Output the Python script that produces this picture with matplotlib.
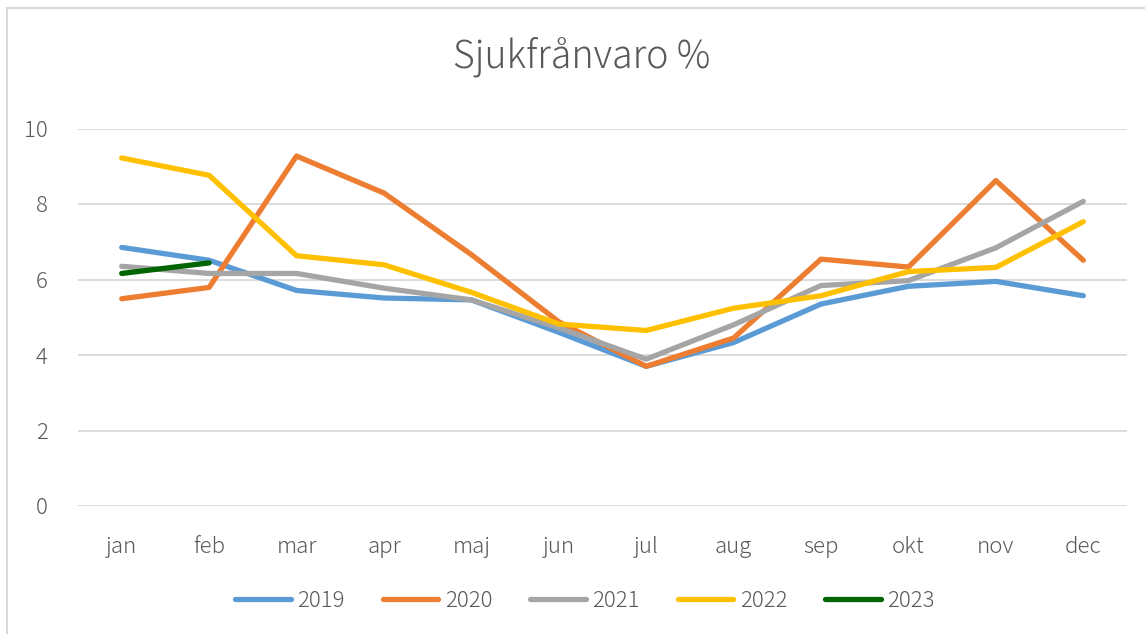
import matplotlib
matplotlib.use("Agg")
import matplotlib.pyplot as plt
from matplotlib.lines import Line2D

plt.rcParams['font.family'] = ['Noto Sans CJK JP', 'DejaVu Sans']

months = ["jan", "feb", "mar", "apr", "maj", "jun", "jul", "aug", "sep", "okt", "nov", "dec"]
y2019 = [6.85, 6.51, 5.71, 5.51, 5.46, 4.60, 3.70, 4.33, 5.35, 5.82, 5.95, 5.57]
y2020 = [5.49, 5.79, 9.27, 8.29, 6.66, 4.88, 3.70, 4.45, 6.54, 6.33, 8.62, 6.51]
y2021 = [6.35, 6.16, 6.16, 5.77, 5.46, 4.72, 3.89, 4.80, 5.84, 5.97, 6.84, 8.07]
y2022 = [9.22, 8.76, 6.63, 6.39, 5.66, 4.82, 4.65, 5.24, 5.57, 6.21, 6.32, 7.53]
y2023 = [6.16, 6.44]
years = ["2019", "2020", "2021", "2022", "2023"]
colors = ["#5B9BD5", "#ED7D31", "#A5A5A5", "#FFC000", "#006400"]
yticks = [0, 2, 4, 6, 8, 10]

text_color = "#595959"

fig = plt.figure(figsize=(11.45, 6.34), dpi=100)
ax = fig.add_axes([78/1145, 1-506/634, (1127-78)/1145, (506-128.5)/634])

series = [y2019, y2020, y2021, y2022, y2023]
x = list(range(len(months)))
for lab, vals, c in zip(years, series, colors):
    ax.plot(x[:len(vals)], vals, color=c, lw=3.8, solid_capstyle='round',
            solid_joinstyle='round', label=lab)

ax.set_xlim(-0.5, len(months) - 0.5)
ax.set_ylim(0, 10)
ax.set_yticks(yticks)
ax.set_xticks(x)
ax.set_xticklabels(months)
ax.grid(axis='y', color='#D9D9D9', lw=1.3)
ax.set_axisbelow(True)
for s in ax.spines.values():
    s.set_visible(False)
ax.tick_params(axis='both', length=0, labelsize=16, colors=text_color)
ax.tick_params(axis='y', pad=22)
ax.tick_params(axis='x', pad=21.5)
for t in ax.get_xticklabels() + ax.get_yticklabels():
    t.set_fontweight('light')

fig.text(582/1145, 1-57/634, "Sjukfrånvaro %", ha='center', va='center',
         fontsize=27, color=text_color, fontweight='light')

handles = [Line2D([0], [0], color=c, lw=3.8, solid_capstyle='round') for c in colors]
leg = fig.legend(handles, years, loc='center', bbox_to_anchor=(585/1145, 1-601/634),
                 ncol=5, frameon=False, handlelength=2.5,
                 handletextpad=0.3, columnspacing=1.7, labelcolor=text_color,
                 prop={'size': 16, 'weight': 'light'})

fig.add_artist(Line2D([7/1145, 7/1145], [0, 1-8/634], color='#D9D9D9', lw=1.5,
                      transform=fig.transFigure))
fig.add_artist(Line2D([7/1145, 1], [1-8/634, 1-8/634], color='#D9D9D9', lw=1.5,
                      transform=fig.transFigure))

fig.savefig("out.png", dpi=100, facecolor='white')
